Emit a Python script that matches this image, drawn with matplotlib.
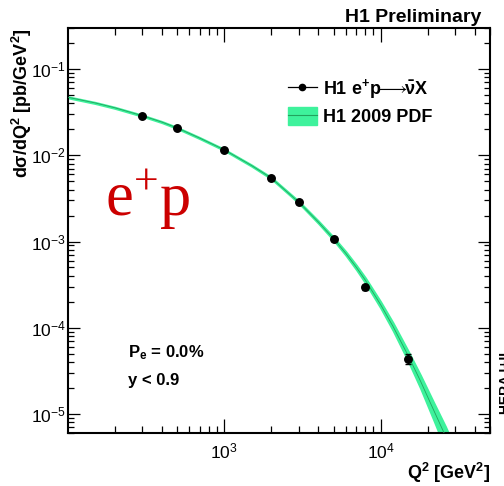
import numpy as np
import matplotlib
matplotlib.use("Agg")
import matplotlib.pyplot as plt
from matplotlib.lines import Line2D
from matplotlib.patches import Patch
from matplotlib.ticker import FixedLocator, LogLocator, FuncFormatter, NullFormatter

plt.rcParams['font.family'] = ['Liberation Sans', 'DejaVu Sans']
plt.rcParams['mathtext.fontset'] = 'custom'
plt.rcParams['mathtext.rm'] = 'Liberation Sans'
plt.rcParams['mathtext.it'] = 'Liberation Sans:italic'
plt.rcParams['mathtext.bf'] = 'Liberation Sans:bold'
plt.rcParams['mathtext.fallback'] = 'stixsans'

# H1 charged-current e+p measurement
q2_data = [300, 500, 1000, 2000, 3000, 5000, 8000, 15000]
xsec_data = [2.88e-2, 2.08e-2, 1.16e-2, 5.45e-3, 2.86e-3, 1.08e-3, 2.94e-4, 4.37e-5]
xsec_err = [0.9e-3, 0.65e-3, 0.4e-3, 0.22e-3, 0.13e-3, 0.055e-3, 0.021e-3, 6.0e-6]

# H1 2009 PDF prediction and its relative uncertainty
q2_pdf = [100, 150, 200, 300, 400, 500, 700, 1000, 1500, 2000, 3000, 4000, 5000,
          6000, 7000, 8000, 10000, 12000, 15000, 18000, 22000, 26000, 30000]
xsec_pdf = [4.72e-2, 4.05e-2, 3.56e-2, 2.88e-2, 2.43e-2, 2.08e-2, 1.58e-2, 1.16e-2,
            7.59e-3, 5.45e-3, 2.86e-3, 1.68e-3, 1.08e-3, 7.26e-4, 5.01e-4, 3.54e-4,
            1.85e-4, 1.035e-4, 4.73e-5, 2.39e-5, 1.07e-5, 5.5e-6, 2.95e-6]
pdf_relunc = [0.02, 0.02, 0.02, 0.02, 0.02, 0.02, 0.02, 0.02, 0.022, 0.025, 0.03,
              0.038, 0.045, 0.055, 0.065, 0.075, 0.09, 0.11, 0.14, 0.18, 0.24, 0.30, 0.35]

x_decades = [1e3, 1e4]
y_decades = [1e-5, 1e-4, 1e-3, 1e-2, 1e-1]

band_color = '#3ef29c'
line_color = '#22a35e'

W, H = 504, 486
fig = plt.figure(figsize=(W / 100, H / 100), dpi=100)
ax = fig.add_axes([67.7 / W, 1 - 433 / H, (490 - 67.7) / W, (433 - 28) / H])

q = np.array(q2_pdf, dtype=float)
s = np.array(xsec_pdf)
r = np.array(pdf_relunc)
ax.fill_between(q, s * (1 - r), s * (1 + r), facecolor=band_color,
                edgecolor=band_color, linewidth=1.2, zorder=2)
ax.plot(q, s, color=line_color, linewidth=0.6, zorder=3)

ax.errorbar(q2_data, xsec_data, yerr=xsec_err, fmt='o', color='black',
            markersize=5.4, elinewidth=1.0, capsize=2.0, capthick=1.0, zorder=5)

ax.set_xscale('log')
ax.set_yscale('log')
ax.set_xlim(100, 5e4)
ax.set_ylim(6e-6, 0.3)

def dec_label(v, pos):
    e = int(round(np.log10(v)))
    return r'$\mathregular{10^{%d}}$' % e

ax.xaxis.set_major_locator(FixedLocator(x_decades))
ax.xaxis.set_minor_locator(LogLocator(base=10, subs=np.arange(2, 10), numticks=20))
ax.yaxis.set_major_locator(FixedLocator(y_decades))
ax.yaxis.set_minor_locator(LogLocator(base=10, subs=np.arange(2, 10), numticks=20))
ax.xaxis.set_major_formatter(FuncFormatter(dec_label))
ax.yaxis.set_major_formatter(FuncFormatter(dec_label))
ax.xaxis.set_minor_formatter(NullFormatter())
ax.yaxis.set_minor_formatter(NullFormatter())

ax.tick_params(which='both', direction='in', top=True, right=True, width=0.9,
               labelsize=12.5, colors='black')
ax.tick_params(axis='x', which='major', length=9.8, pad=6)
ax.tick_params(axis='x', which='minor', length=5.2)
ax.tick_params(axis='y', which='major', length=8.8, pad=1.5)
ax.tick_params(axis='y', which='minor', length=4.3)
for sp in ax.spines.values():
    sp.set_linewidth(1.5)

# axis titles, ROOT-style at the axis ends
fig.text(22 / W, 1 - 28 / H, r'$\mathregular{d\sigma/dQ^{2}\ [pb/GeV^{2}]}$',
         rotation=90, ha='center', va='top', fontsize=13, fontweight='bold')
fig.text(490 / W, 1 - 479 / H, r'$\mathregular{Q^{2}\ [GeV^{2}]}$',
         ha='right', va='baseline', fontsize=13, fontweight='bold')

fig.text(481 / W, 1 - 22 / H, 'H1 Preliminary', ha='right', va='baseline',
         fontsize=14, fontweight='bold')

fig.text(105 / W, 1 - 216 / H, r'$\mathregular{e^{+}p}$', fontfamily='Liberation Serif',
         fontsize=45, color='#cc0000', ha='left', va='baseline')

fig.text(128 / W, 1 - 357 / H, r'$\mathregular{P_{e}}$ = 0.0%', ha='left', va='baseline',
         fontsize=12, fontweight='bold')
fig.text(128 / W, 1 - 385 / H, 'y < 0.9', ha='left', va='baseline',
         fontsize=12, fontweight='bold')

fig.text(499 / W, 1 - 383 / H, 'HERA I+II', rotation=90, ha='left', va='center',
         fontsize=10, fontweight='bold')

handles = [
    Line2D([], [], color='black', linewidth=0.9, marker='o', markersize=4.5),
    (Patch(facecolor=band_color, edgecolor=band_color),
     Line2D([], [], color=line_color, linewidth=0.8)),
]
labels = [r'H1 $\mathregular{e^{+}p}\!\!\longrightarrow\!\!\mathregular{\bar{\nu}}$X',
          'H1 2009 PDF']
leg = ax.legend(handles, labels, loc='upper left', bbox_to_anchor=(288 / W, 1 - 77 / H),
                bbox_transform=fig.transFigure, frameon=False,
                handlelength=1.6, handleheight=1.1, handletextpad=0.35,
                labelspacing=0.35, borderpad=0, borderaxespad=0,
                prop={'weight': 'bold', 'size': 13})

fig.savefig('out.png', dpi=100)
